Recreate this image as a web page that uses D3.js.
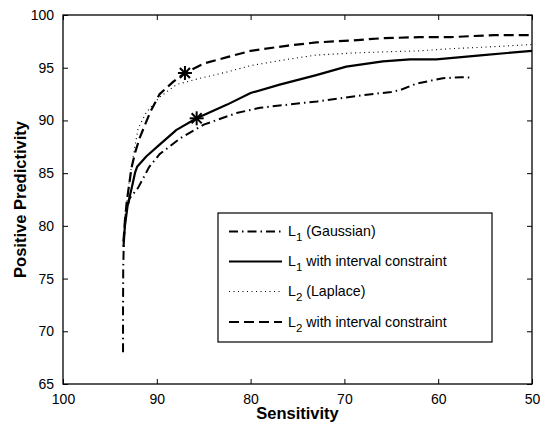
<!DOCTYPE html>
<html><head><meta charset="utf-8">
<script src="https://cdn.jsdelivr.net/npm/d3@7"></script>
<style>body{margin:0;background:#fff}svg{display:block}text{font-family:"Liberation Sans",Arial,Helvetica,sans-serif}</style>
</head><body><svg id="c" width="540" height="425"></svg>
<script>
const xTicks = [100, 90, 80, 70, 60, 50];
const yTicks = [65, 70, 75, 80, 85, 90, 95, 100];

const gaussSens = [93.6, 93.6, 93.58, 93.5, 93.3, 92.9, 92.0, 90.8, 89.7, 87.5, 85.0, 81.5, 79.0, 75.0, 72.9, 68.0, 65.0, 64.0, 62.3, 59.5, 57.5, 56.4];
const gaussPPV  = [68.0, 72.0, 76.0, 79.0, 81.2, 82.6, 83.6, 85.6, 86.8, 88.3, 89.6, 90.7, 91.2, 91.6, 91.8, 92.4, 92.7, 92.9, 93.5, 94.0, 94.1, 94.05];

const solidSens = [93.55, 93.4, 93.1, 92.7, 92.3, 92.1, 91.1, 89.7, 87.9, 85.75, 82.5, 80.0, 76.9, 73.0, 69.8, 65.9, 63.0, 60.2, 55.2, 50.0];
const solidPPV  = [78.0, 80.0, 82.0, 83.5, 85.1, 85.6, 86.6, 87.7, 89.1, 90.2, 91.5, 92.6, 93.4, 94.3, 95.1, 95.6, 95.8, 95.8, 96.2, 96.6];

const dotSens = [93.55, 93.3, 92.9, 92.3, 92.0, 91.1, 89.7, 87.9, 85.4, 82.5, 80.0, 76.0, 73.0, 69.0, 65.9, 62.0, 58.7, 54.0, 50.0];
const dotPPV  = [78.5, 81.5, 84.5, 87.7, 89.2, 90.8, 92.2, 93.4, 94.0, 94.6, 95.2, 95.8, 96.2, 96.4, 96.5, 96.6, 96.8, 97.0, 97.2];

const dashSens = [93.55, 93.4, 93.2, 92.7, 92.3, 91.8, 90.7, 89.7, 88.2, 87.0, 85.0, 82.5, 80.0, 76.0, 73.0, 69.0, 65.9, 62.0, 58.7, 54.0, 50.0];
const dashPPV  = [78.5, 80.5, 82.3, 85.5, 87.0, 88.4, 90.8, 92.5, 93.7, 94.5, 95.4, 96.0, 96.6, 97.1, 97.4, 97.6, 97.8, 97.9, 97.9, 98.1, 98.1];

const markerSens = [87.0, 85.75];
const markerPPV  = [94.5, 90.2];

const seriesNames = ["(Gaussian)", "with interval constraint", "(Laplace)", "with interval constraint"];
const seriesSub = ["1", "1", "2", "2"];

const L = 63, R = 532, T = 15, B = 384;
const svg = d3.select("#c");
const x = d3.scaleLinear().domain([100, 50]).range([L, R]);
const y = d3.scaleLinear().domain([65, 100]).range([B, T]);

const styles = [
  {w: 2, dash: "9,4,1.5,4"},
  {w: 2.2, dash: null},
  {w: 1.1, dash: "1,3.5"},
  {w: 2.2, dash: "10,5"}
];
const series = [
  d3.zip(gaussSens, gaussPPV),
  d3.zip(solidSens, solidPPV),
  d3.zip(dotSens, dotPPV),
  d3.zip(dashSens, dashPPV)
];

svg.append("defs").append("clipPath").attr("id", "clip")
  .append("rect").attr("x", L).attr("y", T).attr("width", R - L).attr("height", B - T);

const tl = 5;
svg.append("g").attr("transform", `translate(0,${B})`)
  .call(d3.axisBottom(x).tickValues(xTicks).tickSize(-tl).tickPadding(10).tickFormat(d3.format("d")))
  .call(g => g.select(".domain").remove());
svg.append("g").attr("transform", `translate(0,${T})`)
  .call(d3.axisTop(x).tickValues(xTicks).tickSize(-tl).tickFormat(""))
  .call(g => g.select(".domain").remove());
svg.append("g").attr("transform", `translate(${L},0)`)
  .call(d3.axisLeft(y).tickValues(yTicks).tickSize(-tl).tickPadding(9).tickFormat(d3.format("d")))
  .call(g => g.select(".domain").remove());
svg.append("g").attr("transform", `translate(${R},0)`)
  .call(d3.axisRight(y).tickValues(yTicks).tickSize(-tl).tickFormat(""))
  .call(g => g.select(".domain").remove());
svg.selectAll(".tick line").attr("stroke", "#000").attr("stroke-width", 1);
svg.selectAll(".tick text").attr("font-size", 14).attr("fill", "#000");

svg.append("rect").attr("x", L).attr("y", T).attr("width", R - L).attr("height", B - T)
  .attr("fill", "none").attr("stroke", "#000").attr("stroke-width", 1.3);

const line = d3.line().x(d => x(d[0])).y(d => y(d[1]));
const plot = svg.append("g").attr("clip-path", "url(#clip)");
series.forEach((s, i) => {
  plot.append("path").attr("d", line(s)).attr("fill", "none").attr("stroke", "#000")
    .attr("stroke-width", styles[i].w).attr("stroke-dasharray", styles[i].dash)
    .attr("stroke-linejoin", "round");
});

const ms = 7;
d3.zip(markerSens, markerPPV).forEach(([sx, sy]) => {
  const cx = x(sx), cy = y(sy);
  const g = svg.append("g").attr("stroke", "#000").attr("stroke-width", 2);
  [[ms, 0], [0, ms], [ms * 0.72, ms * 0.72], [ms * 0.72, -ms * 0.72]].forEach(([dx, dy]) => {
    g.append("line").attr("x1", cx - dx).attr("y1", cy - dy).attr("x2", cx + dx).attr("y2", cy + dy);
  });
});

const lg = svg.append("g");
lg.append("rect").attr("x", 218).attr("y", 213).attr("width", 274).attr("height", 129)
  .attr("fill", "#fff").attr("stroke", "#000").attr("stroke-width", 1.2);
const rowY = [231.5, 261.5, 291.5, 322];
seriesNames.forEach((n, i) => {
  lg.append("line").attr("x1", 229).attr("x2", 282).attr("y1", rowY[i]).attr("y2", rowY[i])
    .attr("stroke", "#000").attr("stroke-width", styles[i].w).attr("stroke-dasharray", styles[i].dash);
  const t = lg.append("text").attr("x", 288).attr("y", rowY[i] + 4.5).attr("font-size", 14.2).attr("fill", "#000");
  t.append("tspan").text("L");
  t.append("tspan").attr("dy", 5).attr("font-size", 11.5).text(seriesSub[i]);
  t.append("tspan").attr("dy", -5).text(" " + n);
});

svg.append("text").attr("x", (L + R) / 2).attr("y", 419).attr("text-anchor", "middle")
  .attr("font-size", 16.5).attr("font-weight", "bold").text("Sensitivity");
svg.append("text").attr("transform", `translate(26,${(T + B) / 2}) rotate(-90)`).attr("text-anchor", "middle")
  .attr("font-size", 16.5).attr("font-weight", "bold").text("Positive Predictivity");
</script></body></html>
